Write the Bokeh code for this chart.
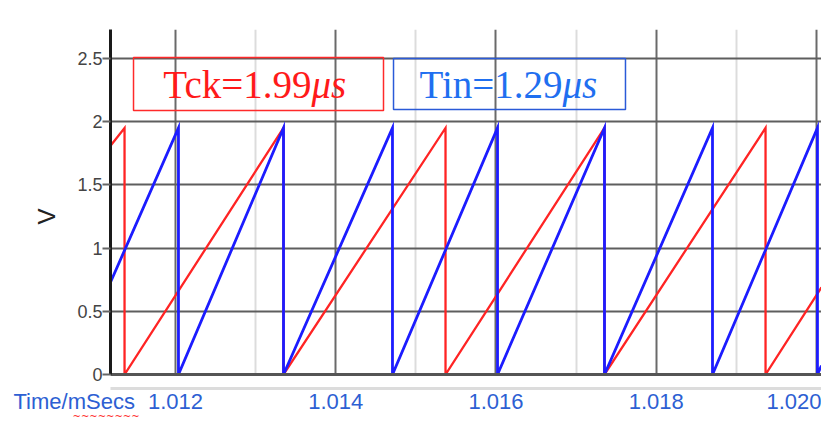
import math
from bokeh.plotting import figure
from bokeh.models import Range1d, FixedTicker, Label, BoxAnnotation, Title, LinearAxis
from bokeh.embed import file_html
from bokeh.resources import INLINE

# ---- data ----
x_major = [1.012, 1.014, 1.016, 1.018, 1.02]
x_minor = [1.011, 1.013, 1.015, 1.017, 1.019]
x_tick_labels = ["1.012", "1.014", "1.016", "1.018", "1.020"]
y_major = [0, 0.5, 1, 1.5, 2, 2.5]
y_tick_labels = ["0", "0.5", "1", "1.5", "2", "2.5"]

# Tck sawtooth (red) vertices: time (ms), voltage (V)
red_t = [1.011189, 1.011364, 1.011364, 1.013348, 1.013348, 1.015370, 1.015370,
         1.017354, 1.017354, 1.019364, 1.019364, 1.020062]
red_v = [1.81, 1.95, 0.0, 1.95, 0.0, 1.95, 0.0, 1.95, 0.0, 1.95, 0.0, 0.69]

# Tin sawtooth (blue) vertices
blue_t = [1.011189, 1.012037, 1.012037, 1.013348, 1.013348, 1.014708, 1.014708,
          1.016019, 1.016019, 1.017354, 1.017354, 1.018702, 1.018702,
          1.020012, 1.020012, 1.020062]
blue_v = [0.73, 1.95, 0.0, 1.95, 0.0, 1.95, 0.0, 1.95, 0.0, 1.95, 0.0, 1.95, 0.0,
          1.95, 0.0, 0.07]

tck_text = "Tck=1.99"
tin_text = "Tin=1.29"
unit_text = "μs"
x_name = "Time/mSecs"
y_name = "V"

X0, X1 = 1.0111888, 1.0200624
Y0, Y1 = 0.0, 2.729

p = figure(width=821, height=429, output_backend="svg", toolbar_location=None,
           x_range=Range1d(X0, X1), y_range=Range1d(Y0, Y1),
           min_border_left=110, min_border_right=0, min_border_top=29,
           min_border_bottom=55)
p.outline_line_color = None
p.background_fill_color = "white"
p.border_fill_color = "white"

xticker = FixedTicker(ticks=x_major, minor_ticks=x_minor)
yticker = FixedTicker(ticks=y_major, minor_ticks=[])

# grids
p.xgrid.ticker = xticker
p.xgrid.grid_line_color = "#6a6a6a"
p.xgrid.grid_line_width = 2
p.xgrid.minor_grid_line_color = "#dcdcdc"
p.xgrid.minor_grid_line_width = 2
p.ygrid.ticker = yticker
p.ygrid.grid_line_color = "#5e5e5e"
p.ygrid.grid_line_width = 2

# bottom axis A: dark frame line, empty labels, spacer ticks
axA = p.xaxis[0]
axA.ticker = xticker
axA.axis_line_color = "#555555"
axA.axis_line_width = 3
axA.major_tick_line_color = None
axA.minor_tick_line_color = None
axA.major_tick_out = 14
axA.major_tick_in = 0
axA.minor_tick_out = 0
axA.minor_tick_in = 0
axA.major_label_overrides = {v: "" for v in x_major}
axA.major_label_standoff = 0

# bottom axis B: light separator line with the blue tick labels
axB = LinearAxis(ticker=xticker)
axB.axis_line_color = "#dcdcdc"
axB.axis_line_width = 3
axB.major_tick_line_color = None
axB.minor_tick_line_color = None
axB.major_tick_out = 0
axB.major_tick_in = 0
axB.minor_tick_out = 0
axB.minor_tick_in = 0
axB.major_label_overrides = {v: s for v, s in zip(x_major, x_tick_labels)}
axB.major_label_text_font = "Liberation Sans"
axB.major_label_text_font_size = "22px"
axB.major_label_text_color = "#2d5fd3"
axB.major_label_standoff = 5
p.add_layout(axB, "below")

# left axis
ay = p.yaxis[0]
ay.ticker = yticker
ay.axis_line_color = "#1a1a1a"
ay.axis_line_width = 3
ay.major_tick_out = 8
ay.major_tick_in = 0
ay.major_tick_line_color = "#666666"
ay.major_tick_line_width = 2
ay.minor_tick_line_color = None
ay.minor_tick_out = 0
ay.minor_tick_in = 0
ay.major_label_overrides = {v: s for v, s in zip(y_major, y_tick_labels)}
ay.major_label_text_font = "Liberation Sans"
ay.major_label_text_font_size = "18px"
ay.major_label_text_color = "#444444"
ay.major_label_standoff = 0

# y title "V"
p.add_layout(Title(text=y_name, align="left", offset=150, standoff=30,
                   text_font="Liberation Sans", text_font_size="24px",
                   text_font_style="normal", text_color="#222222"), "left")

# spell-check squiggle under "mSecs"
p.add_layout(Title(text="~" * 8, align="left", offset=-38, standoff=-5,
                   text_font="DejaVu Sans", text_font_size="10px",
                   text_font_style="normal", text_color="#ff3030"), "below")
# x title, on the tick-label row
p.add_layout(Title(text=x_name, align="left", offset=-97, standoff=-62,
                   vertical_align="top",
                   text_font="Liberation Sans", text_font_size="22px",
                   text_font_style="normal", text_color="#2d5fd3"), "below")

# waveforms
p.line(red_t, red_v, line_color="#ff2424", line_width=2.3, line_join="miter")
p.line(blue_t, blue_v, line_color="#1c1cff", line_width=2.8, line_join="miter")

# annotation boxes
p.add_layout(BoxAnnotation(left=1.011476, right=1.014596, bottom=2.089, top=2.508,
                           fill_color=None, line_color="#ff2a2a", line_alpha=1.0,
                           line_width=1.5))
p.add_layout(BoxAnnotation(left=1.014721, right=1.017616, bottom=2.097, top=2.50,
                           fill_color=None, line_color="#2a5ad8", line_alpha=1.0,
                           line_width=1.5))

TY = 2.294
RX = 1.013697
BX = 1.016830
for xx, txt, col in [(RX, tck_text, "#ff1a1a"), (BX, tin_text, "#1f6ff0")]:
    p.add_layout(Label(x=xx, y=TY, text=txt, text_align="right",
                       text_baseline="alphabetic", text_font="Liberation Serif",
                       text_font_size="39px", text_color=col))
    p.add_layout(Label(x=xx, y=TY, text=unit_text, text_align="left",
                       text_baseline="alphabetic", text_font="Liberation Serif",
                       text_font_style="italic", text_font_size="39px",
                       text_color=col))

open("out.html", "w").write(file_html(p, INLINE))
